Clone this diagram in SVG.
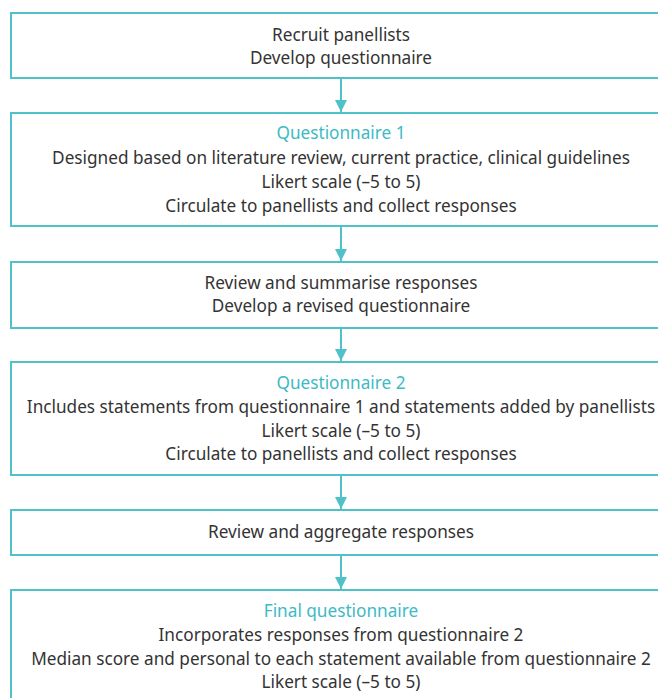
<svg xmlns="http://www.w3.org/2000/svg" width="658" height="698" viewBox="0 0 658 698">
<defs>
<style>
.box{fill:#fff;stroke:#4fc1c9;stroke-width:2}
.t{font-family:"Noto Sans","Liberation Sans",sans-serif;font-size:17.2px;fill:#333;text-anchor:middle}
.h{fill:#3dbac4}
.c{stroke:#4fc1c9;stroke-width:2;fill:none}
</style>
<marker id="ah" viewBox="0 0 10 10" refX="10" refY="5" markerWidth="6" markerHeight="6" markerUnits="strokeWidth" orient="auto">
<path d="M0,0 L10,5 L0,10 Z" fill="#4fc1c9"/>
</marker>
</defs>
<rect width="658" height="698" fill="#fff"/>
<g id="connectors">
<line class="c" x1="341" y1="79" x2="341" y2="112" marker-end="url(#ah)"/>
<line class="c" x1="341" y1="227" x2="341" y2="261" marker-end="url(#ah)"/>
<line class="c" x1="341" y1="329" x2="341" y2="361" marker-end="url(#ah)"/>
<line class="c" x1="341" y1="476" x2="341" y2="509" marker-end="url(#ah)"/>
<line class="c" x1="341" y1="556" x2="341" y2="589" marker-end="url(#ah)"/>
</g>
<g id="n1">
<rect class="box" x="11" y="13" width="660" height="65"/>
<text class="t" x="341" y="41">Recruit panellists</text>
<text class="t" x="341" y="64">Develop questionnaire</text>
</g>
<g id="n2">
<rect class="box" x="11" y="113" width="660" height="113"/>
<text class="t h" x="341" y="139">Questionnaire 1</text>
<text class="t" x="341" y="164">Designed based on literature review, current practice, clinical guidelines</text>
<text class="t" x="341" y="188">Likert scale (–5 to 5)</text>
<text class="t" x="341" y="212">Circulate to panellists and collect responses</text>
</g>
<g id="n3">
<rect class="box" x="11" y="262" width="660" height="66"/>
<text class="t" x="341" y="289">Review and summarise responses</text>
<text class="t" x="341" y="312">Develop a revised questionnaire</text>
</g>
<g id="n4">
<rect class="box" x="11" y="362" width="660" height="113"/>
<text class="t h" x="341" y="389">Questionnaire 2</text>
<text class="t" x="341" y="413">Includes statements from questionnaire 1 and statements added by panellists</text>
<text class="t" x="341" y="437">Likert scale (–5 to 5)</text>
<text class="t" x="341" y="460">Circulate to panellists and collect responses</text>
</g>
<g id="n5">
<rect class="box" x="11" y="510" width="660" height="45"/>
<text class="t" x="341" y="538">Review and aggregate responses</text>
</g>
<g id="n6">
<rect class="box" x="11" y="590" width="660" height="130"/>
<text class="t h" x="341" y="617">Final questionnaire</text>
<text class="t" x="341" y="641">Incorporates responses from questionnaire 2</text>
<text class="t" x="341" y="665">Median score and personal to each statement available from questionnaire 2</text>
<text class="t" x="341" y="688">Likert scale (–5 to 5)</text>
</g>
</svg>
